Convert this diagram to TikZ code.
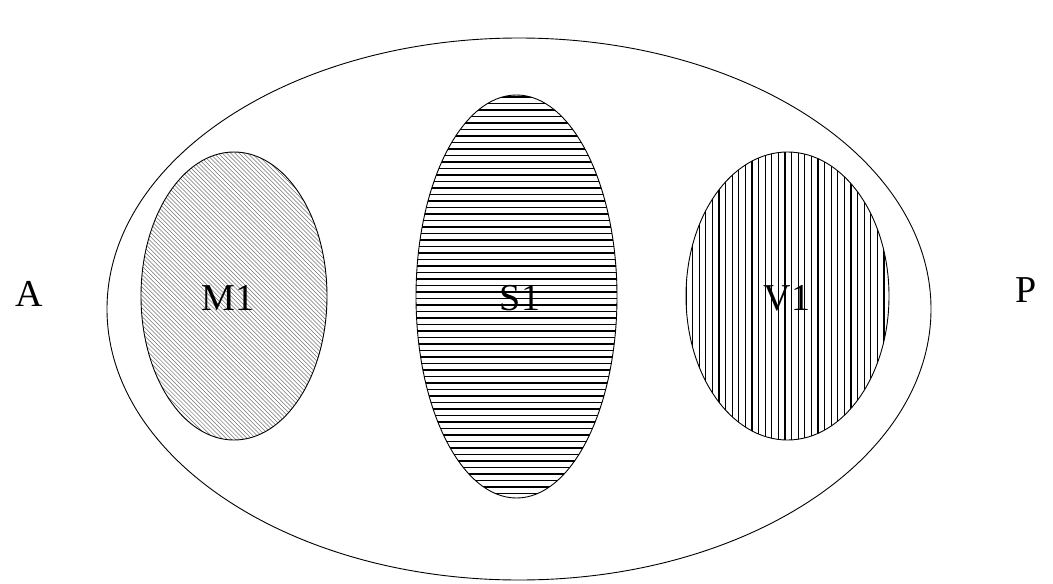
\documentclass[tikz,border=0pt]{standalone}
\usepackage{fontspec}
\setmainfont{Liberation Serif}
\usetikzlibrary{shapes.geometric}
\begin{document}
\begin{tikzpicture}[x=1pt,y=-1pt,
  region/.style={draw=black,line width=0.9pt,ellipse,inner sep=0pt},
  lbl/.style={font=\fontsize{38}{40}\selectfont,inner sep=0pt},
  hatchM/.style={draw=black!55,line width=0.5pt},
  hatchS/.style={draw=black,line width=1.4pt},
  hatchV/.style={draw=black,line width=1.2pt}]
\useasboundingbox (0,0) rectangle (1053,584);
% outer set
\node[region,minimum width=824pt,minimum height=542pt] (U) at (519,309) {};
% M1 hatch
\begin{scope}
  \clip (234,296) ellipse (93 and 144);
  \foreach \k in {-80,...,60} {
    \draw[hatchM] (100+\k*4.2,140) -- (100+\k*4.2+320,460);
  }
\end{scope}
% S1 hatch
\begin{scope}
  \clip (516.5,296.5) ellipse (100.5 and 201.5);
  \foreach \k in {0,...,64} {
    \draw[hatchS] (410,97+\k*6.5) -- (625,97+\k*6.5);
  }
\end{scope}
% V1 hatch
\begin{scope}
  \clip (787.5,296) ellipse (101.5 and 144);
  \foreach \k in {0,...,32} {
    \draw[hatchV] (686+\k*6.6,150) -- (686+\k*6.6,442);
  }
\end{scope}
\node[region,minimum width=186pt,minimum height=288pt] (M) at (234,296) {};
\node[region,minimum width=201pt,minimum height=403pt] (S) at (516.5,296.5) {};
\node[region,minimum width=203pt,minimum height=288pt] (V) at (787.5,296) {};
\node[lbl] (Ml) at (228,298) {M1};
\node[lbl] (Sl) at (520,298) {S1};
\node[lbl] (Vl) at (787,298) {V1};
\node[lbl] (A) at (29,294) {A};
\node[lbl] (P) at (1026,290) {P};
\end{tikzpicture}
\end{document}
